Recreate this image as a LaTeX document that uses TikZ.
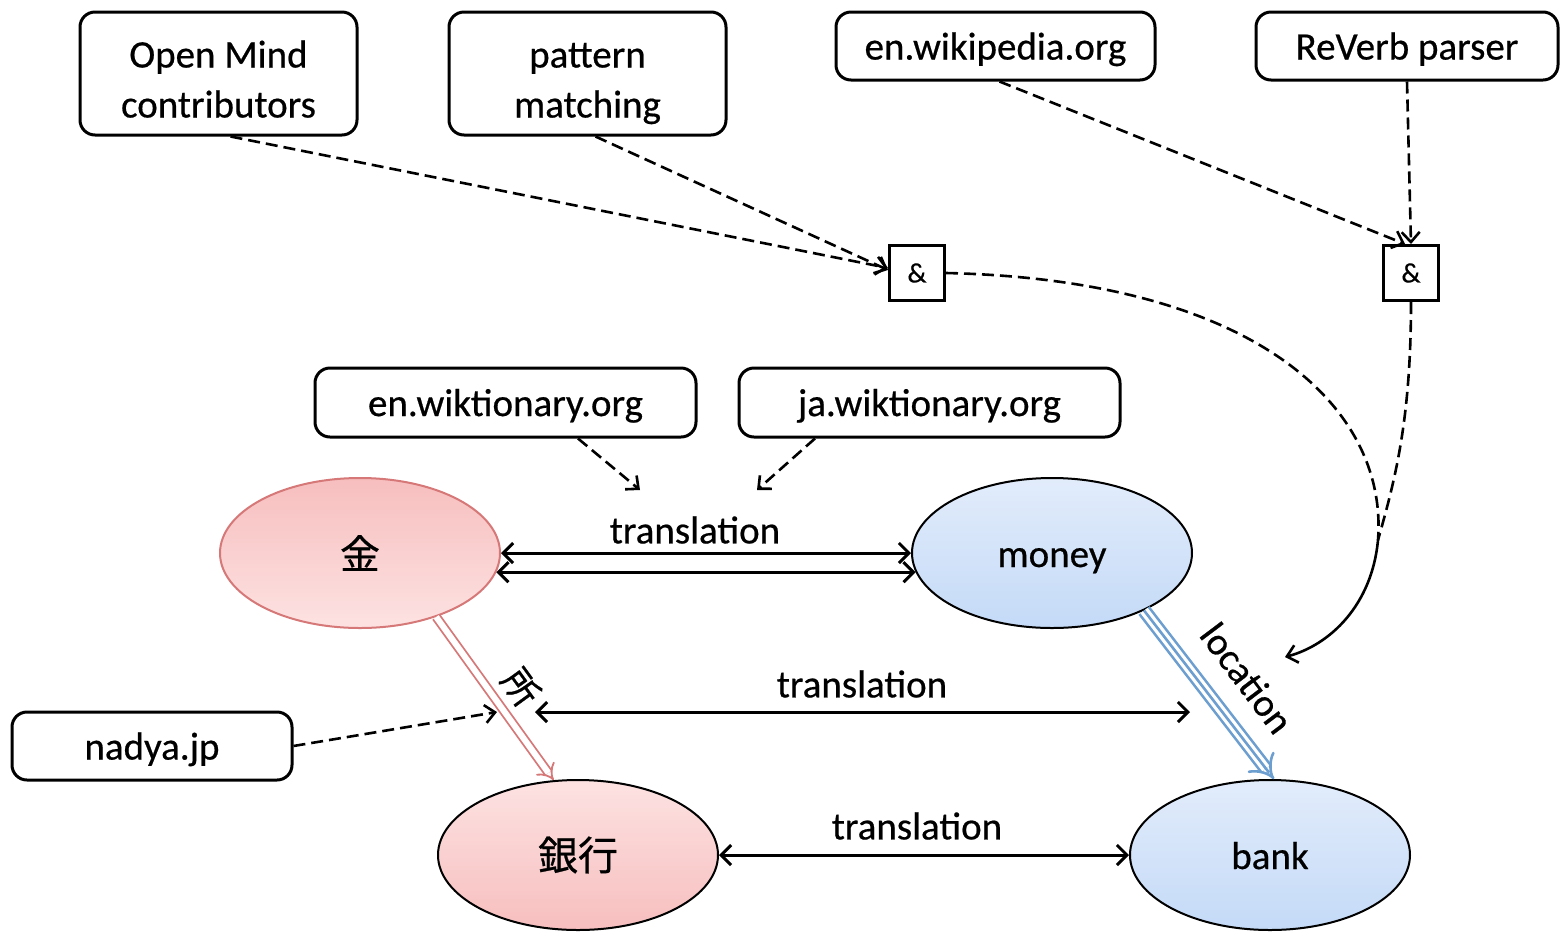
\documentclass[tikz,border=0pt]{standalone}
\usepackage{fontspec}
\setmainfont{Carlito}[FakeBold=0.5]
\newfontfamily\cjkfont{Noto Sans CJK JP}[FakeBold=0.6]
\usetikzlibrary{arrows.meta,shapes.geometric}
\definecolor{pinkT}{RGB}{247,190,190}
\definecolor{pinkB}{RGB}{253,226,226}
\definecolor{redline}{RGB}{214,120,120}
\definecolor{blueT}{RGB}{226,236,251}
\definecolor{blueB}{RGB}{196,218,247}
\definecolor{blueline}{RGB}{108,158,208}
\begin{document}
\begin{tikzpicture}[x=0.5pt,y=-0.5pt,
 box/.style={draw,line width=1.5pt,rounded corners=7.5pt,align=center,inner sep=0pt,text depth=0pt,font=\fontsize{19.5}{25}\selectfont},
 ampbox/.style={draw,line width=1.5pt,minimum width=27.5pt,minimum height=27.5pt,inner sep=0pt,font=\fontsize{14}{16}\selectfont},
 ell/.style={ellipse,draw,line width=1pt,minimum width=140pt,minimum height=75pt,inner sep=0pt},
 dshline/.style={line width=1.3pt,dash pattern=on 6pt off 3pt},
 dsh/.style={dshline,-{Straight Barb[length=5pt,width=9pt]}},
 arr/.style={line width=1.5pt,{Straight Barb[length=5pt,width=10pt]}-{Straight Barb[length=5pt,width=10pt]}},
 lbl/.style={font=\fontsize{19.5}{24}\selectfont},
 elbl/.style={font=\fontsize{19.5}{24}\selectfont,text height=14pt,text depth=0pt},
 cjk/.style={font=\cjkfont\fontsize{20}{20}\selectfont}
]
\fill[white] (0,0) rectangle (1560,933);
\useasboundingbox (0,0) rectangle (1560,933);

% boxes
\node[box,minimum width=138.5pt,minimum height=61.5pt] (om) at (218.5,73.5) {\rule{0pt}{19pt}Open Mind\\contributors};
\node[box,minimum width=138.5pt,minimum height=61.5pt] (pm) at (587.5,73.5) {\rule{0pt}{19pt}pattern\\matching};
\node[box,minimum width=159.5pt,minimum height=34pt] (wp) at (995.5,46) {en.wikipedia.org};
\node[box,minimum width=151pt,minimum height=34pt] (rv) at (1407,46) {ReVerb parser};
\node[ampbox] (a1) at (917,273) {\&};
\node[ampbox] (a2) at (1411,273) {\&};
\node[box,minimum width=190.5pt,minimum height=34.5pt] (enw) at (505.5,402.5) {en.wiktionary.org};
\node[box,minimum width=190.5pt,minimum height=34.5pt] (jaw) at (929.5,402.5) {ja.wiktionary.org};
\node[box,minimum width=140pt,minimum height=34pt] (nad) at (152,746) {nadya.jp};

% ellipses
\node[ell,draw=redline,top color=pinkT,bottom color=pinkB,cjk] (kin) at (360,553) {金};
\node[ell,top color=blueT,bottom color=blueB,elbl] (money) at (1052,553) {money};
\node[ell,top color=pinkB,bottom color=pinkT,cjk] (gin) at (578,855) {銀行};
\node[ell,top color=blueT,bottom color=blueB,elbl] (bank) at (1270,855) {bank};

% free ends
\coordinate (enwt) at (640,490);
\coordinate (jawt) at (757,490);
\coordinate (midL) at (535,712);
\coordinate (midR) at (1190,712);
\coordinate (nadt) at (497,712);
\coordinate (merge) at (1378,540);
\coordinate (locend) at (1285,657);

% dashed connectors
\draw[dsh] ([xshift=6pt]om.south) -- ([yshift=2.5pt]a1.west);
\draw[dsh] ([xshift=4pt]pm.south) -- ([yshift=1.5pt]a1.west);
\draw[dsh] ([xshift=2pt]wp.south) -- ([xshift=-3pt]a2.north);
\draw[dsh] (rv.south) -- (a2.north);
\draw[dsh] ([xshift=36.25pt]enw.south) -- (enwt);
\draw[dsh] ([xshift=-57.25pt]jaw.south) -- (jawt);
\draw[dsh] (nad.east) -- (nadt);
\draw[dshline] (a1.east) .. controls (1260,280) and (1388,410) .. (merge);
\draw[dshline] (a2.south) .. controls (1411,420) and (1395,480) .. (merge);
\draw[line width=1.3pt,-{Straight Barb[length=5pt,width=9pt]}] (merge) .. controls (1372,605) and (1330,645) .. (locend);

% translation arrows
\draw[arr] (kin.east) -- (money.west);
\draw[arr] (kin.-8.4) -- (money.188.4);
\draw[arr] (midL) -- (midR);
\draw[arr] (gin.east) -- (bank.west);
\node[lbl] (t1) at (695,530) {translation};
\node[lbl] (t2) at (862,684) {translation};
\node[lbl] (t3) at (917,826) {translation};

% red double arrow
\draw[redline,line width=0.9pt,double=white,double distance=3pt,-{Implies}] (kin.-40) -- (gin.108.7);
\node[cjk,font=\cjkfont\fontsize{18}{18}\selectfont,rotate=-54] (sho) at (521,687) {所};

% blue triple arrow
\draw[blueline,line width=1.3pt,double=white,double distance=4.5pt,-{Implies}] (money.-32) -- (bank.87);
\draw[blueline,line width=1.3pt,shorten >=4pt] (money.-32) -- (bank.87);
\node[lbl,rotate=-53] (loc) at (1247,678) {location};
\end{tikzpicture}
\end{document}
